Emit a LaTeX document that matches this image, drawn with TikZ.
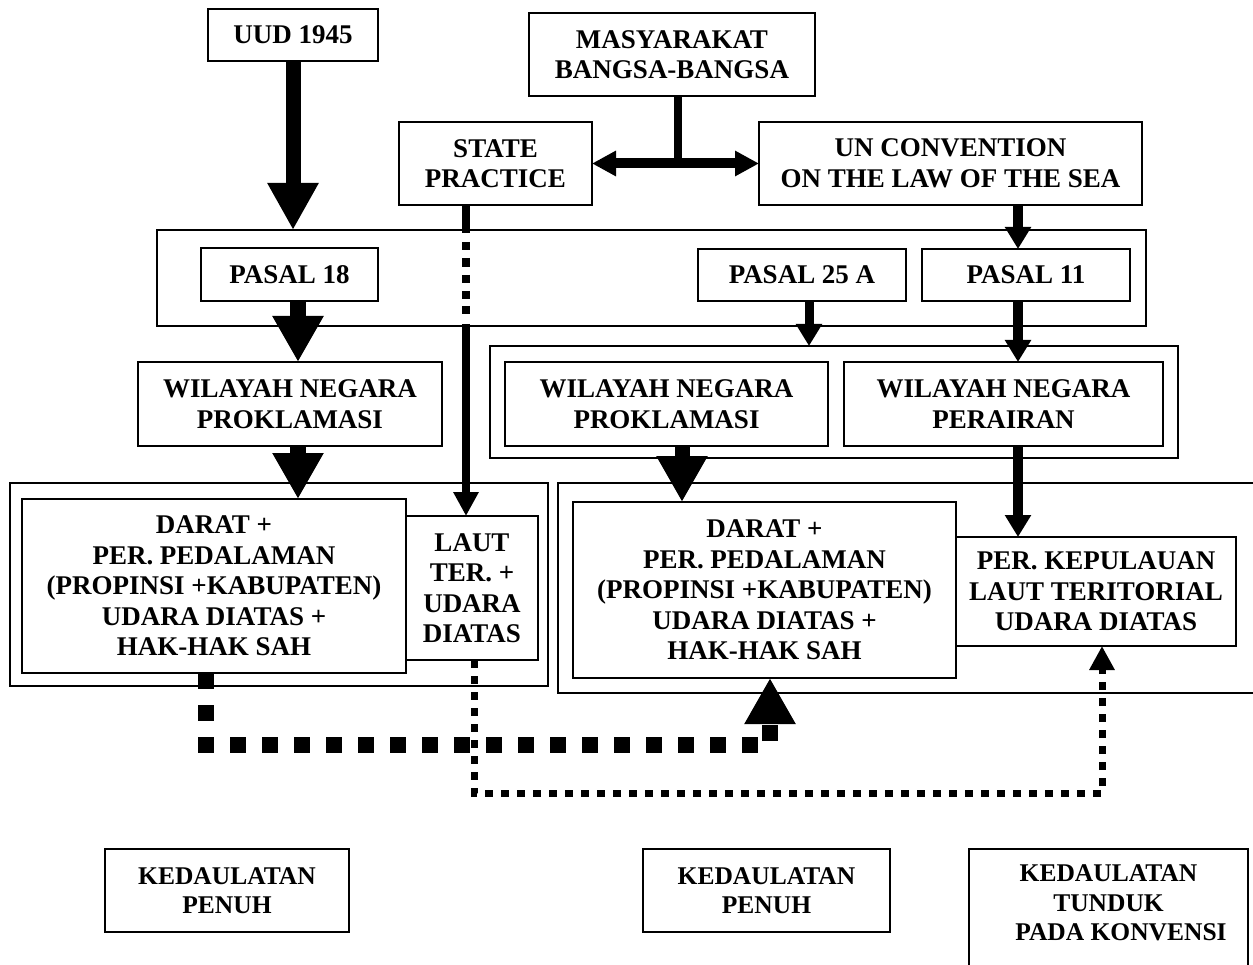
\documentclass[tikz,border=0pt]{standalone}
\usepackage{fontspec}
\setmainfont{Liberation Serif}
\usetikzlibrary{arrows.meta}
\begin{document}
\begin{tikzpicture}[x=1pt,y=-1pt,
  bx/.style={draw, line width=1.5pt, inner sep=0pt, outer sep=0pt, align=center,
    font=\fontsize{27}{30.5}\selectfont\bfseries},
  fr/.style={draw, line width=1.5pt, inner sep=0pt, outer sep=0pt},
  kb/.style={bx, font=\fontsize{25.5}{29.5}\selectfont\bfseries},
  bigarr/.style={line width=16pt, -{Triangle[length=46pt,width=48pt]}},
  medarr/.style={line width=10pt, -{Triangle[length=22pt,width=25pt]}},
  smalltip/.style={-{Triangle[length=24pt,width=24pt]}},
  thindot/.style={line width=7pt, dash pattern=on 8pt off 8pt},
  thickdash/.style={line width=16pt, dash pattern=on 16pt off 16pt}
]
\fill[white] (0,0) rectangle (1253,965);
\useasboundingbox (0,0) rectangle (1253,965);
\clip (0,0) rectangle (1253,965);

% nodes
\node[bx, minimum width=170pt, minimum height=52pt] (uud) at (293,35) {UUD 1945};
\node[bx, minimum width=286pt, minimum height=83pt] (masy) at (672,54.5) {MASYARAKAT\\BANGSA-BANGSA};
\node[bx, minimum width=193pt, minimum height=83pt] (state) at (495.5,163.5) {STATE\\PRACTICE};
\node[bx, minimum width=383pt, minimum height=83pt] (un) at (950.5,163.5) {UN CONVENTION\\ON THE LAW OF THE SEA};
\node[fr, minimum width=989pt, minimum height=96pt] (pasalbox) at (651.5,278) {};
\node[bx, minimum width=177pt, minimum height=53pt] (pasal18) at (289.5,274.5) {PASAL 18};
\node[bx, minimum width=208pt, minimum height=52pt] (pasal25) at (802,275) {PASAL 25 A};
\node[bx, minimum width=208pt, minimum height=52pt] (pasal11) at (1026,275) {PASAL 11};
\node[bx, minimum width=304pt, minimum height=84pt] (wnl) at (290,404) {WILAYAH NEGARA\\PROKLAMASI};
\node[fr, minimum width=688pt, minimum height=112pt] (wnbox) at (834,402) {};
\node[bx, minimum width=323pt, minimum height=84pt] (wnr1) at (666.5,404) {WILAYAH NEGARA\\PROKLAMASI};
\node[bx, minimum width=319pt, minimum height=84pt] (wnr2) at (1003.5,404) {WILAYAH NEGARA\\PERAIRAN};
\node[fr, minimum width=538pt, minimum height=203pt] (leftbox) at (279,584.5) {};
\node[bx, minimum width=384pt, minimum height=174pt] (darl) at (214,586) {DARAT +\\PER. PEDALAMAN\\(PROPINSI +KABUPATEN)\\UDARA DIATAS +\\HAK-HAK SAH};
\node[bx, minimum width=132pt, minimum height=144pt] (laut) at (472,588) {LAUT\\TER. +\\UDARA\\DIATAS};
\node[fr, minimum width=707pt, minimum height=210pt] (rightbox) at (911.5,588) {};
\node[bx, minimum width=383pt, minimum height=176pt] (darr) at (764.5,590) {DARAT +\\PER. PEDALAMAN\\(PROPINSI +KABUPATEN)\\UDARA DIATAS +\\HAK-HAK SAH};
\node[bx, minimum width=280pt, minimum height=109pt] (kep) at (1096,591.5) {PER. KEPULAUAN\\LAUT TERITORIAL\\UDARA DIATAS};
\node[kb, minimum width=244pt, minimum height=83pt] (ked1) at (227,890.5) {KEDAULATAN\\PENUH};
\node[kb, minimum width=247pt, minimum height=83pt] (ked2) at (766.5,890.5) {KEDAULATAN\\PENUH};
\node[fr, minimum width=279pt, minimum height=136pt] (ked3) at (1108.5,917) {};
\node[kb, draw=none, anchor=north] (ked3t) at ([yshift=-16pt]ked3.north) {KEDAULATAN\\TUNDUK\\\hspace*{25pt}PADA KONVENSI};

% columns / bends
\coordinate (cst) at (466,0);
\coordinate (cm) at (678,0);
\coordinate (c25) at (809,0);
\coordinate (c11) at (1018,0);
\coordinate (cl) at (298,0);
\coordinate (cr) at (682,0);
\coordinate (cdl) at (206,745);
\coordinate (cdr) at (770,745);
\coordinate (ctl) at (474,793);
\coordinate (ctr) at (1102,793);

% connectors
\draw[line width=15pt, -{Triangle[length=47pt,width=48pt]}] (uud.south) -- (uud.south |- pasalbox.north);
\draw[bigarr] (pasal18.south -| cl) -- (wnl.north -| cl);
\draw[bigarr] (wnl.south -| cl) -- (darl.north -| cl);
\draw[bigarr, line width=15pt] (wnr1.south -| cr) -- (darr.north -| cr);
\draw[line width=8pt] (masy.south -| cm) -- (state.east -| cm);
\draw[line width=10pt, {Triangle[length=24pt,width=24pt]}-{Triangle[length=24pt,width=24pt]}] (state.east) -- (un.west);
\draw[medarr] (un.south -| c11) -- (pasal11.north -| c11);
\draw[medarr, line width=9pt] (pasal25.south -| c25) -- (wnbox.north -| c25);
\draw[medarr] (pasal11.south -| c11) -- (wnr2.north -| c11);
\draw[medarr] (wnr2.south -| c11) -- (kep.north -| c11);
\draw[line width=8pt, smalltip,
  dash pattern=on 28pt off 9pt on 8pt off 8pt on 9pt off 8pt on 8pt off 8pt on 8pt off 7pt on 8pt off 10pt on 400pt]
  (state.south -| cst) -- (laut.north -| cst);
\draw[thindot, smalltip] (laut.south -| ctl) -- (ctl) -- (ctr) -- (kep.south -| ctr);
\draw[thickdash, -{Triangle[length=46pt,width=48pt]}] (darl.south -| cdl) -- (cdl) -- (cdr) -- (darr.south -| cdr);
\end{tikzpicture}
\end{document}
